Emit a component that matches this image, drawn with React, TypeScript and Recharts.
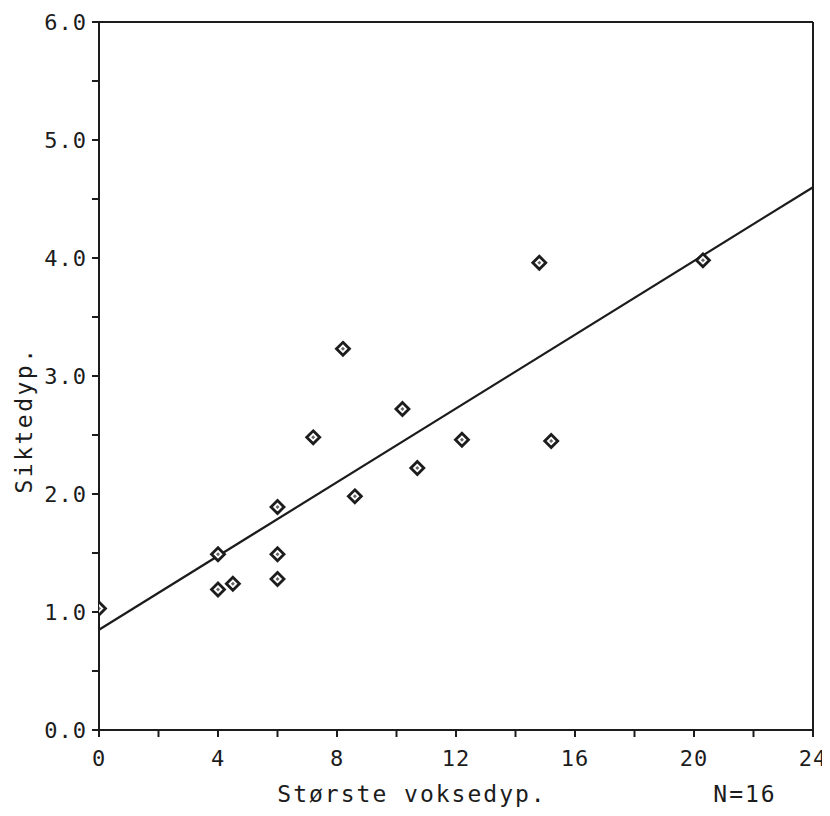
import React from 'react';
import { ScatterChart, Scatter, XAxis, YAxis, ReferenceLine, Label } from 'recharts';

const xValues = [0, 4, 4, 4.5, 6, 6, 6, 7.2, 8.2, 8.6, 10.2, 10.7, 12.2, 14.8, 15.2, 20.3];
const yValues = [1.03, 1.49, 1.19, 1.24, 1.89, 1.49, 1.28, 2.48, 3.23, 1.98, 2.72, 2.22, 2.46, 3.96, 2.45, 3.98];
const fitX = [0, 24];
const fitY = [0.85, 4.6];
const xTicks = [0, 2, 4, 6, 8, 10, 12, 14, 16, 18, 20, 22, 24];
const yTicks = [0, 0.5, 1, 1.5, 2, 2.5, 3, 3.5, 4, 4.5, 5, 5.5, 6];
const xTitle = 'Største voksedyp.';
const yTitle = 'Siktedyp.';
const nLabel = 'N=16';

const points = xValues.map((x, i) => ({ x, y: yValues[i] }));
const fitSegment = fitX.map((x, i) => ({ x, y: fitY[i] }));

const INK = '#1c1c1c';
const FONT = '"DejaVu Sans Mono", "Liberation Mono", monospace';

const Diamond = (props: any) => {
  const { cx, cy } = props;
  if (cx == null || cy == null) return null;
  const r = 6.5;
  const r2 = 2;
  return (
    <g>
      <polygon
        points={`${cx},${cy - r} ${cx + r},${cy} ${cx},${cy + r} ${cx - r},${cy}`}
        fill="#fff"
        stroke={INK}
        strokeWidth={2.8}
      />
      <polygon
        points={`${cx},${cy - r2} ${cx + r2},${cy} ${cx},${cy + r2} ${cx - r2},${cy}`}
        fill="#666"
      />
    </g>
  );
};

const YTitle = (props: any) => {
  const vb = props.viewBox || {};
  const cx = vb.x + 16;
  const cy = vb.y + vb.height / 2 + 44;
  return (
    <text
      x={cx}
      y={cy}
      transform={`rotate(-90 ${cx} ${cy})`}
      textAnchor="middle"
      dominantBaseline="central"
      fontFamily={FONT}
      fontSize={23}
      letterSpacing={2.5}
      fill={INK}
    >
      {yTitle}
    </text>
  );
};

export default function App() {
  return (
    <div style={{ width: 822, height: 808, background: '#fff' }}>
      <ScatterChart width={822} height={808} margin={{ top: 14, right: 17, left: 0, bottom: 0 }}>
        <XAxis
          type="number"
          dataKey="x"
          domain={[0, 24]}
          ticks={xTicks}
          interval={0}
          allowDataOverflow
          tickFormatter={(v: number) => (v % 4 === 0 ? String(v) : '')}
          height={86}
          tickSize={7}
          tickMargin={13}
          axisLine={{ stroke: INK, strokeWidth: 2 }}
          tickLine={{ stroke: INK, strokeWidth: 2 }}
          tick={{ fill: INK, fontFamily: FONT, fontSize: 22, letterSpacing: 1 }}
        >
          <Label
            value={xTitle}
            position="insideBottom"
            offset={14}
            dx={-44}
            style={{ fill: INK, fontFamily: FONT, fontSize: 23, letterSpacing: 2 }}
          />
          <Label
            value={nLabel}
            position="insideBottom"
            offset={14}
            dx={289}
            style={{ fill: INK, fontFamily: FONT, fontSize: 23, letterSpacing: 2 }}
          />
        </XAxis>
        <YAxis
          type="number"
          dataKey="y"
          domain={[0, 6]}
          ticks={yTicks}
          interval={0}
          allowDataOverflow
          tickFormatter={(v: number) => (v % 1 === 0 ? v.toFixed(1) : '')}
          width={91}
          tickSize={7}
          tickMargin={5}
          axisLine={{ stroke: INK, strokeWidth: 2 }}
          tickLine={{ stroke: INK, strokeWidth: 2 }}
          tick={{ fill: INK, fontFamily: FONT, fontSize: 22, letterSpacing: 1 }}
        >
          <Label content={<YTitle />} />
        </YAxis>
        <ReferenceLine y={6} stroke={INK} strokeWidth={2} ifOverflow="extendDomain" />
        <ReferenceLine x={24} stroke={INK} strokeWidth={2} ifOverflow="extendDomain" />
        <ReferenceLine segment={fitSegment} stroke={INK} strokeWidth={2.2} ifOverflow="visible" />
        <Scatter data={points} shape={<Diamond />} isAnimationActive={false} />
      </ScatterChart>
    </div>
  );
}
